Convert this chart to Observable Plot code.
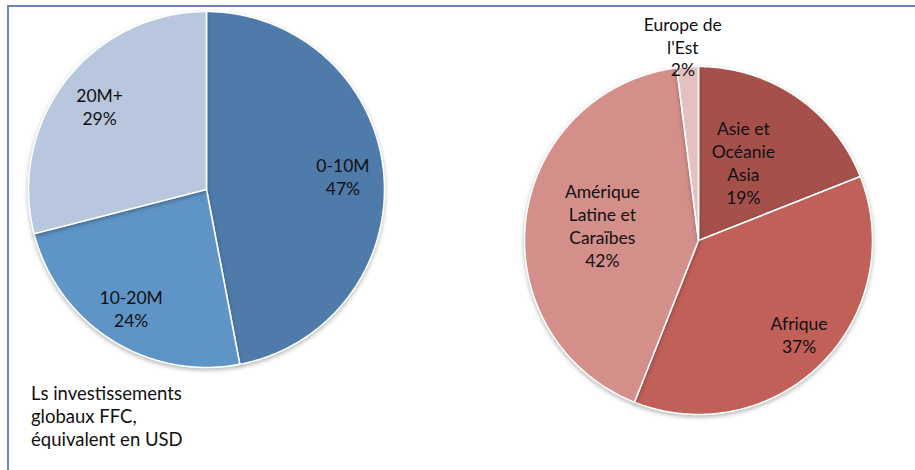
<!DOCTYPE html>
<html><head><meta charset="utf-8">
<script src="https://cdn.jsdelivr.net/npm/d3@7"></script>
<script src="https://cdn.jsdelivr.net/npm/@observablehq/plot@0.6"></script>
<style>
html,body{margin:0;padding:0;background:#fff;}
#wrap{position:relative;width:915px;height:470px;overflow:hidden;font-family:Lato,"Open Sans",sans-serif;}
#chart{position:absolute;left:0;top:0;}
#frame{position:absolute;left:7px;top:5px;width:920px;height:480px;border-top:2px solid #6f7fbf;border-left:2px solid #6f7fbf;pointer-events:none;}
#caption{position:absolute;left:31px;top:382px;font-size:18.5px;line-height:23px;color:#111;}
</style></head><body>
<div id="wrap"><div id="chart"></div><div id="frame"></div><div id="caption"></div></div>
<script>
// ---- data ----
const sizeCategories = ["0-10M", "10-20M", "20M+"];
const sizeShares = [47, 24, 29];
const sizeColors = ["#4f7bab", "#5f95c6", "#b8c6de"];

const regionCategories = ["Asie et\nOcéanie\nAsia", "Afrique", "Amérique\nLatine et\nCaraïbes", "Europe de\nl'Est"];
const regionShares = [19, 37, 42, 2];
const regionColors = ["#a5504b", "#c15f59", "#d48f8b", "#e4c1c0"];

const captionLines = ["Ls investissements", "globaux FFC,", "équivalent en USD"];

// ---- layout ----
const W = 915, H = 470;
const pies = [
  {cats: sizeCategories, vals: sizeShares, colors: sizeColors, cx: 206, cy: 189, r: 178,
   labelR: [0.77, 0.79, 0.76], labelShift: [0, 0, 0]},
  {cats: regionCategories, vals: regionShares, colors: regionColors, cx: 698, cy: 240, r: 174,
   labelR: [0.52, 0.79, 0.56, 1.12], labelShift: [-4.5, -2, 2, -1]}
];

const slices = [];
const labels = [];
pies.forEach((p, pi) => {
  const total = d3.sum(p.vals);
  let acc = 0;
  p.vals.forEach((v, i) => {
    const a0 = acc / total * 2 * Math.PI;
    acc += v;
    const a1 = acc / total * 2 * Math.PI;
    const n = Math.max(2, Math.ceil((a1 - a0) / (Math.PI / 360)));
    const pts = [{x: p.cx, y: p.cy}];
    for (let k = 0; k <= n; k++) {
      const a = a0 + (a1 - a0) * k / n;
      pts.push({x: p.cx + p.r * Math.sin(a), y: p.cy - p.r * Math.cos(a)});
    }
    pts.push({x: p.cx, y: p.cy});
    slices.push({color: p.colors[i], pts});
    const am = (a0 + a1) / 2 + p.labelShift[i] * Math.PI / 180;
    const lr = p.r * p.labelR[i];
    labels.push({text: p.cats[i] + "\n" + v + "%", x: p.cx + lr * Math.sin(am), y: p.cy - lr * Math.cos(am)});
  });
});

const chart = Plot.plot({
  width: W, height: H,
  margin: 0,
  x: {domain: [0, W], range: [0, W], axis: null},
  y: {domain: [0, H], range: [0, H], axis: null},
  style: {fontFamily: "Lato, 'Open Sans', sans-serif", background: "transparent"},
  marks: [
    ...slices.map(s => Plot.line(s.pts, {x: "x", y: "y", fill: s.color, stroke: "white", strokeWidth: 1.6, strokeLinejoin: "round"})),
    Plot.text(labels, {x: "x", y: "y", text: "text", fontSize: 17.5, lineHeight: 1.31, fill: "#111", textAnchor: "middle"})
  ]
});
chart.querySelectorAll('g[aria-label="line"]').forEach(g => {
  g.style.filter = "drop-shadow(0px 2px 2px rgba(0,0,0,0.28))";
});
document.getElementById("chart").appendChild(chart);
document.getElementById("caption").innerHTML = captionLines.join("<br>");
</script>
</body></html>
